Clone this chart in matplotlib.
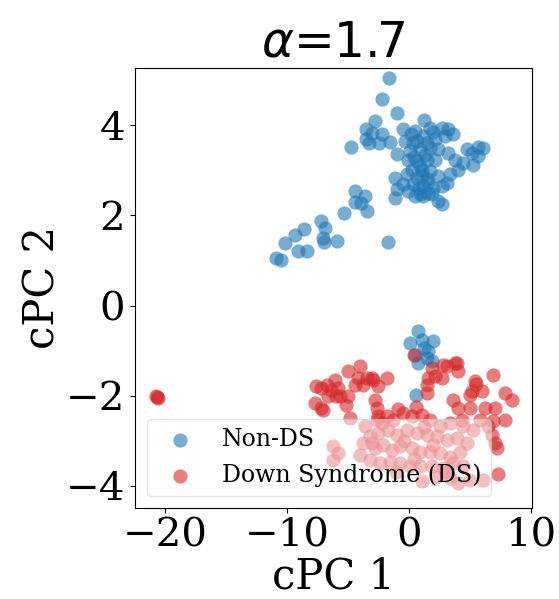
import numpy as np
import matplotlib
matplotlib.use("Agg")
import matplotlib.pyplot as plt

# cPC coordinates
nonds_x = [-1.6, -2.2, -1.0, -2.75, 1.2, -3.55, -3.0, -2.2, -3.5, -2.45, -1.55, -3.3, -4.78,
           -0.45, 0.49, 1.73, 2.69, 3.24, 3.65, 2.96, 2.14, 1.18, 0.35, -0.33, -0.96, 0.08,
           0.91, 1.73, 2.41, 3.23, 3.79, 4.75, 5.7, 5.16, 6.1, 5.7, 4.47, 5.3, 4.06, 3.37,
           3.1, 2.69, -0.06, 0.63, 1.46, 2.14, 0.22, 1.04, 1.73, 2.41, -0.19, 0.63, 1.46,
           -1.15, -0.47, 0.35, 1.18, 2.0, -1.01, -0.06, 0.91, 1.59, -1.15, 0.49, 1.18, 1.87,
           2.41, 2.73, 0.7, 1.3, 0.9, 1.5, 0.4, 1.1, 2.0, 0.2, 1.6, 0.8,
           -4.44, -3.62, -4.44, -3.9, -3.48, -5.35, -7.19, -6.9, -7.05, -7.0, -5.9, -8.64,
           -9.33, -10.2, -9.1, -8.4, -10.9, -10.5, -1.75,
           0.71, 0.08, 1.04, 2.0, 0.49, 1.59, 1.46, 0.77, 1.87, 1.2, 0.58]
nonds_y = [5.05, 4.58, 4.27, 4.10, 4.13, 3.92, 3.84, 3.80, 3.69, 3.61, 3.63, 3.61, 3.51,
           3.91, 3.87, 3.95, 3.95, 3.91, 3.80, 3.76, 3.69, 3.76, 3.61, 3.65, 3.36, 3.43,
           3.47, 3.50, 3.47, 3.39, 3.24, 3.47, 3.52, 3.39, 3.50, 3.31, 3.17, 3.11, 3.02, 2.91,
           2.73, 2.65, 3.24, 3.21, 3.24, 3.24, 3.02, 3.02, 2.99, 2.88, 2.91, 2.84, 2.80,
           2.84, 2.69, 2.69, 2.65, 2.62, 2.58, 2.54, 2.47, 2.50, 2.39, 2.43, 2.43, 2.47,
           2.32, 2.25, 3.65, 3.35, 3.10, 3.60, 3.30, 2.90, 3.85, 3.80, 2.75, 2.60,
           2.54, 2.44, 2.30, 2.28, 2.10, 2.06, 1.87, 1.73, 1.50, 1.42, 1.43, 1.71,
           1.56, 1.39, 1.21, 1.21, 1.06, 1.02, 1.41,
           -0.57, -0.83, -0.76, -0.79, -1.09, -1.00, -1.16, -1.27, -1.24, -0.95, -1.98]

ds_x = [-20.7, -20.6, -20.75,
        -7.6, -6.77, -7.19, -6.09, -6.36, -5.82, -7.74, -7.19, -6.64, -5.68, -5.0, -4.03,
        -4.17, -4.44, -3.76, -3.48, -2.94, -2.53, -1.84, -5.0, -4.86, -2.8, -2.66, -2.53,
        -7.05, -5.13, -5.95, -3.07,
        2.83, 3.79, 4.06, 1.87, 1.59, 2.14, 2.69, 1.46, 0.44, 3.1, 3.92, 1.46,
        6.94, 5.43, 5.16, 5.98, 5.02, 7.9, 8.5, 3.65, 4.06, 5.02, 6.26, 7.08, 7.9, 4.34,
        6.53, 6.8, 7.08, 7.2, 7.35, 5.84, 6.9, 5.5,
        -2.66, -1.84, -1.29, -0.47, 0.22, 1.04, 1.73, 2.55, 3.37, 4.47, 5.3, -3.62, -3.21,
        -2.53, -1.7, -1.01, -0.19, 0.63, 1.46, 2.28, 3.1, 3.92, 4.75, -3.76, -2.8, -2.11,
        -1.42, -0.74, 0.22, 0.91, 1.73, 2.55, 3.37, 4.2, -6.23, -5.82, -6.23, -4.03, -3.21,
        -2.39, -1.56, -0.74, 0.08, 0.91, 1.87, 2.83, 3.65, 4.47, 1.04, 3.37, 4.06, 5.02,
        6.12, -3.07, -0.9, 0.6, -2.2, 1.2, -0.4, 2.0, 3.0, -1.1, 2.2, 0.4]
ds_y = [-2.02, -2.05, -2.0,
        -1.79, -1.76, -1.83, -1.64, -1.87, -1.83, -2.16, -2.27, -2.01, -2.01, -1.46, -1.35,
        -1.61, -1.76, -1.76, -1.61, -1.64, -1.79, -1.61, -2.01, -2.50, -2.09, -2.27, -2.46,
        -2.31, -2.20, -2.01, -1.61,
        -1.31, -1.27, -1.46, -1.39, -1.61, -1.57, -1.61, -1.76, -1.09, -1.35, -1.27, -1.94,
        -1.53, -1.68, -1.90, -1.90, -1.98, -1.94, -2.09, -2.09, -2.27, -2.27, -2.27, -2.27,
        -2.53, -2.53, -2.68, -2.87, -3.05, -3.16, -3.74, -2.53, -2.55, -1.75,
        -2.53, -2.46, -2.53, -2.38, -2.46, -2.42, -2.53, -2.68, -2.61, -2.68, -2.76, -2.68,
        -2.90, -2.83, -2.76, -2.87, -2.76, -2.83, -2.87, -2.90, -2.98, -2.94, -3.05, -3.05,
        -3.16, -3.09, -3.20, -3.12, -3.16, -3.24, -3.24, -3.27, -3.35, -3.24, -3.12, -3.27,
        -3.42, -3.31, -3.42, -3.50, -3.46, -3.50, -3.57, -3.57, -3.57, -3.61, -3.50, -3.57,
        -3.90, -3.83, -3.94, -3.87, -3.87, -3.05, -2.30, -2.25, -2.60, -2.70, -3.00, -3.10,
        -3.70, -3.70, -3.80, -3.40]

labels = ['Non-DS', 'Down Syndrome (DS)']
colors = ['#1f77b4', '#d62728']

plt.rcParams['font.family'] = 'serif'

fig = plt.figure(figsize=(5.59, 5.99), dpi=100)
ax = fig.add_axes([0.2415, 0.152, 0.71, 0.735])

ax.scatter(nonds_x, nonds_y, s=105, c=colors[0], alpha=0.6, linewidths=0, label=labels[0])
ax.scatter(ds_x, ds_y, s=105, c=colors[1], alpha=0.6, linewidths=0, label=labels[1])

ax.set_xlim(-22.5, 10.1)
ax.set_ylim(-4.49, 5.28)
ax.set_xticks([-20, -10, 0, 10])
ax.set_yticks([-4, -2, 0, 2, 4])
ax.tick_params(labelsize=29)
ax.set_xlabel('cPC 1', fontsize=30, labelpad=0.5)
ax.set_ylabel('cPC 2', fontsize=30, labelpad=2)
ax.set_title(r'$\alpha$=1.7', fontsize=35, family='DejaVu Sans', pad=8)
ax.legend(loc='lower left', fontsize=17, framealpha=0.5)

fig.savefig('out.png', dpi=100)
